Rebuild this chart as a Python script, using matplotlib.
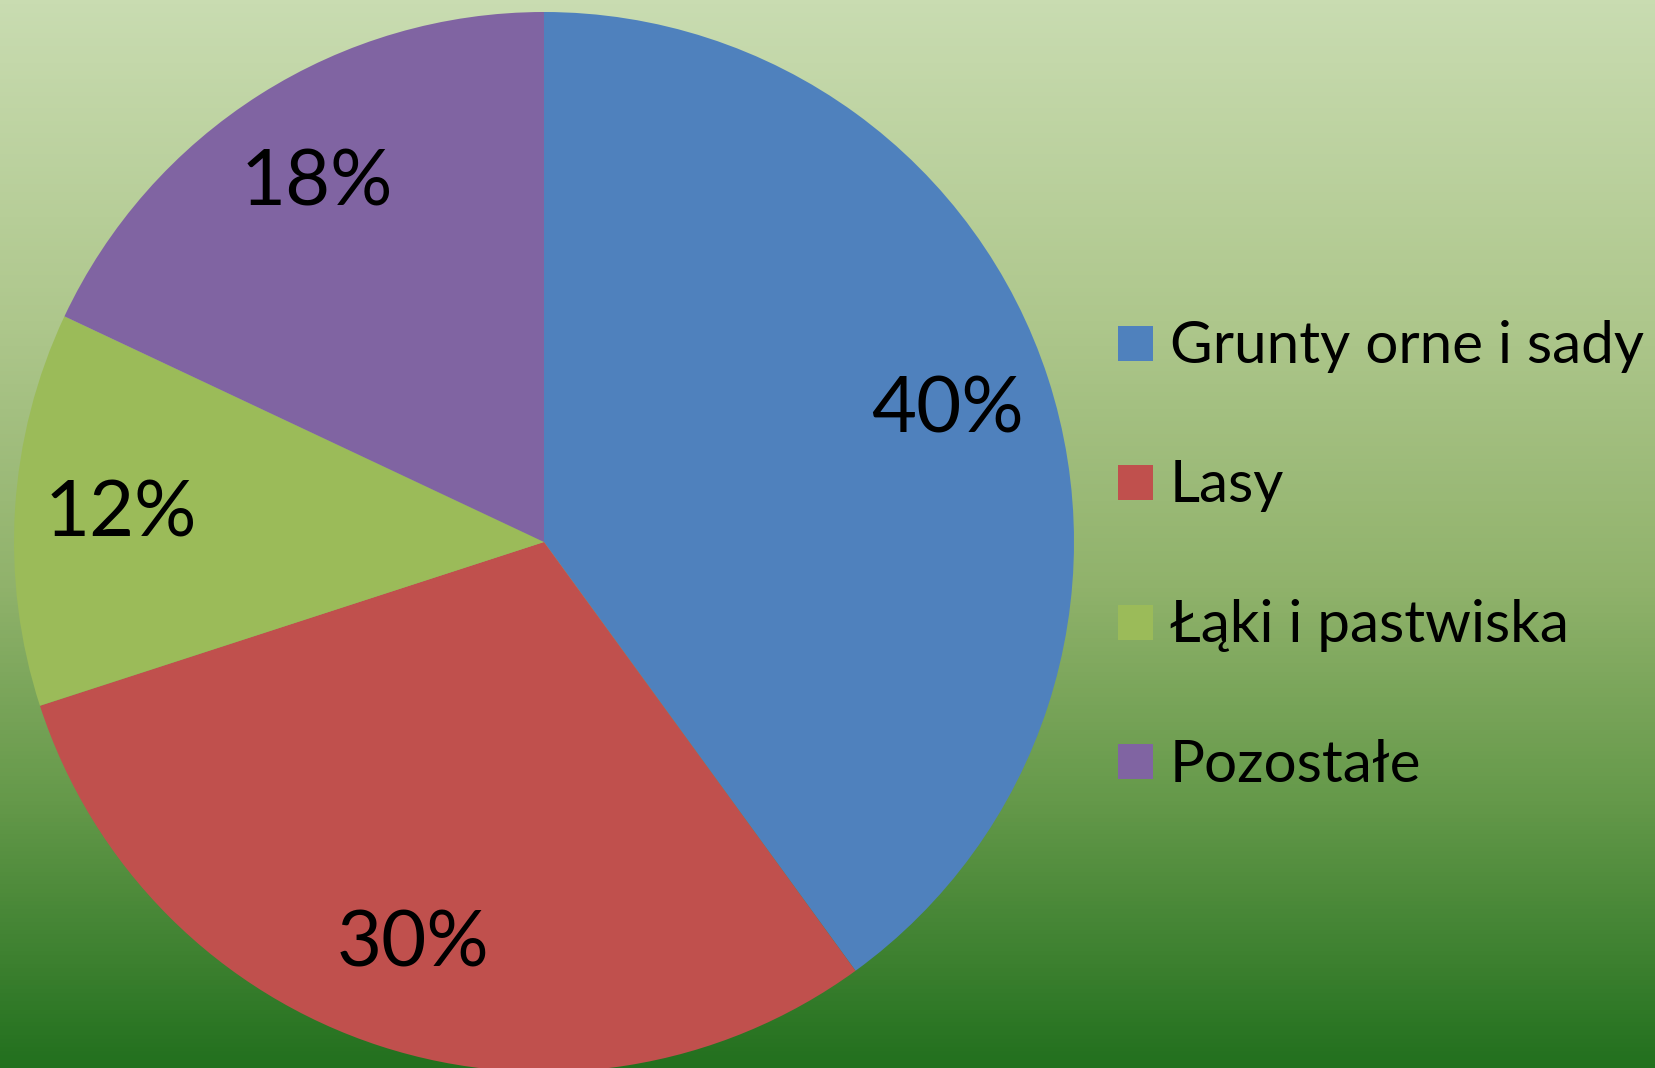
import numpy as np
import matplotlib.pyplot as plt
from matplotlib.colors import LinearSegmentedColormap
from matplotlib.patches import Rectangle

labels = ['Grunty orne i sady', 'Lasy', 'Łąki i pastwiska', 'Pozostałe']
values = [40, 30, 12, 18]
colors = ['#4f81bd', '#c0504d', '#9bbb59', '#8064a2']

plt.rcParams['font.family'] = ['Lato', 'DejaVu Sans']

W, H = 1655, 1068
fig = plt.figure(figsize=(W / 100, H / 100), dpi=100)

# gradient background
bg = fig.add_axes([0, 0, 1, 1])
cmap = LinearSegmentedColormap.from_list('bg', [
    (0.0, '#c9dcb1'), (0.3, '#aec78c'), (0.55, '#90b26b'),
    (0.75, '#65994a'), (1.0, '#22701e')])
grad = np.linspace(0, 1, 256).reshape(-1, 1)
bg.imshow(grad, aspect='auto', cmap=cmap, extent=[0, 1, 0, 1], origin='upper')
bg.axis('off')

# pie: center (544, 542) px from top-left, radius 530 px
cx, cy, r = 544, 542, 530
ax = fig.add_axes([(cx - r) / W, (H - cy - r) / H, 2 * r / W, 2 * r / H])
ax.patch.set_alpha(0)
wedges, texts, autotexts = ax.pie(values, colors=colors, startangle=90, counterclock=False,
                                  autopct='%d%%', pctdistance=0.80, radius=1,
                                  wedgeprops=dict(linewidth=0))
for t in autotexts:
    t.set_fontsize(56)
    t.set_color('black')
ax.set_xlim(-1, 1)
ax.set_ylim(-1, 1)
ax.set_aspect('equal')
ax.axis('off')

# legend
sq = 35
x0 = 1118
y0 = 343
step = 139.5
for i, (lab, col) in enumerate(zip(labels, colors)):
    yc = y0 + i * step
    fig.patches.append(Rectangle((x0 / W, (H - yc - sq / 2) / H), sq / W, sq / H,
                                 transform=fig.transFigure, facecolor=col, edgecolor='none'))
    fig.text(1170 / W, (H - yc - 20) / H, lab, fontsize=42, va='baseline', ha='left', color='black')

fig.savefig('out.png', dpi=100)
